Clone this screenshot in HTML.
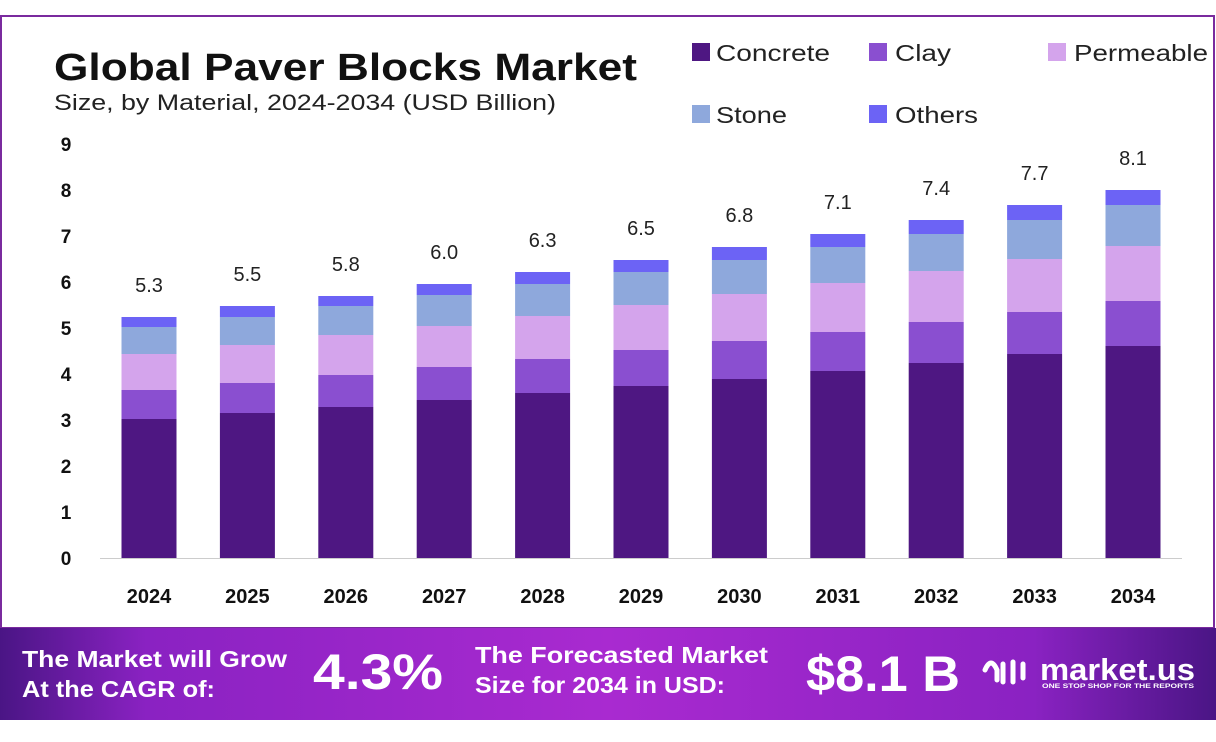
<!DOCTYPE html>
<html><head><meta charset="utf-8"><style>
body{margin:0;width:1216px;height:737px;background:#fff;overflow:hidden;font-family:"Liberation Sans",sans-serif}
</style></head><body>
<svg width="1216" height="737" xmlns="http://www.w3.org/2000/svg" font-family="Liberation Sans, sans-serif">
<defs>
<linearGradient id="bg" x1="0" x2="1" y1="0" y2="0">
<stop offset="0" stop-color="#4a1585"/><stop offset="0.12" stop-color="#8a22c2"/><stop offset="0.5" stop-color="#a92ad0"/><stop offset="0.85" stop-color="#8a22c2"/><stop offset="1" stop-color="#4a1585"/>
</linearGradient>
</defs>
<rect x="1" y="16" width="1213" height="612" fill="none" stroke="#7a2a9e" stroke-width="2"/>
<text x="54" y="80" font-size="38" font-weight="bold" fill="#111" textLength="583" lengthAdjust="spacingAndGlyphs">Global Paver Blocks Market</text>
<text x="54" y="110" font-size="22" fill="#222" textLength="502" lengthAdjust="spacingAndGlyphs">Size, by Material, 2024-2034 (USD Billion)</text>
<g font-size="23" fill="#222">
<rect x="692" y="43" width="18" height="18" fill="#4e1782"/><text x="716" y="61" textLength="114" lengthAdjust="spacingAndGlyphs">Concrete</text>
<rect x="869" y="43" width="18" height="18" fill="#8a4fd0"/><text x="895" y="61" textLength="56" lengthAdjust="spacingAndGlyphs">Clay</text>
<rect x="1048" y="43" width="18" height="18" fill="#d4a4ec"/><text x="1074" y="61" textLength="134" lengthAdjust="spacingAndGlyphs">Permeable</text>
<rect x="692" y="105" width="18" height="18" fill="#8ea8dc"/><text x="716" y="123" textLength="71" lengthAdjust="spacingAndGlyphs">Stone</text>
<rect x="869" y="105" width="18" height="18" fill="#6c63f5"/><text x="895" y="123" textLength="83" lengthAdjust="spacingAndGlyphs">Others</text>
</g>
<g font-size="19" font-weight="bold" fill="#111" text-anchor="middle">
<text x="66" y="565">0</text><text x="66" y="519">1</text><text x="66" y="473">2</text><text x="66" y="427">3</text><text x="66" y="381">4</text><text x="66" y="335">5</text><text x="66" y="289">6</text><text x="66" y="243">7</text><text x="66" y="197">8</text><text x="66" y="151">9</text>
</g>
<line x1="100" y1="558.5" x2="1182" y2="558.5" stroke="#ccc"/>
<g id="bars"></g>
<rect x="0" y="628" width="1216" height="92" fill="url(#bg)"/>
<g fill="#fff" font-weight="bold">
<text x="22" y="667" font-size="23" textLength="265" lengthAdjust="spacingAndGlyphs">The Market will Grow</text>
<text x="22" y="697" font-size="23" textLength="193" lengthAdjust="spacingAndGlyphs">At the CAGR of:</text>
<text x="313" y="689" font-size="50" textLength="130" lengthAdjust="spacingAndGlyphs">4.3%</text>
<text x="475" y="663" font-size="23" textLength="293" lengthAdjust="spacingAndGlyphs">The Forecasted Market</text>
<text x="475" y="693" font-size="23" textLength="250" lengthAdjust="spacingAndGlyphs">Size for 2034 in USD:</text>
<text x="806" y="691" font-size="50" textLength="154" lengthAdjust="spacingAndGlyphs">$8.1 B</text>
<text x="1040" y="680" font-size="31" textLength="155" lengthAdjust="spacingAndGlyphs">market.us</text>
<text x="1042" y="688" font-size="6" textLength="152" lengthAdjust="spacingAndGlyphs">ONE STOP SHOP FOR THE REPORTS</text>
<path d="M985 670 q6 -14 12 0 v10 M1003 664 v18 M1013 662 v20 M1023 664 v14" stroke="#fff" stroke-width="5" fill="none" stroke-linecap="round"/>
</g>
</svg>
<script>
var d=[[2024,"5.3",317,327,354,390,419],[2025,"5.5",306,317,345,383,413],[2026,"5.8",296,306,335,375,407],[2027,"6.0",284,295,326,367,400],[2028,"6.3",272,284,316,359,393],[2029,"6.5",260,272,305,350,386],[2030,"6.8",247,260,294,341,379],[2031,"7.1",234,247,283,332,371],[2032,"7.4",220,234,271,322,363],[2033,"7.7",205,220,259,312,354],[2034,"8.1",190,205,246,301,346]];
var c=["#6c63f5","#8ea8dc","#d4a4ec","#8a4fd0","#4e1782"];
var s="";
d.forEach(function(r,i){var cx=149+i*98.4,x=cx-27.5;
var b=[r[2],r[3],r[4],r[5],r[6],558];
for(var k=0;k<5;k++)s+='<rect x="'+x+'" y="'+b[k]+'" width="55" height="'+(b[k+1]-b[k])+'" fill="'+c[k]+'"/>';
s+='<text x="'+cx+'" y="'+(r[2]-25)+'" font-size="20" fill="#222" text-anchor="middle">'+r[1]+'</text>';
s+='<text x="'+cx+'" y="603" font-size="20" font-weight="bold" fill="#111" text-anchor="middle">'+r[0]+'</text>';});
document.getElementById("bars").innerHTML=s;
</script>
</body></html>
